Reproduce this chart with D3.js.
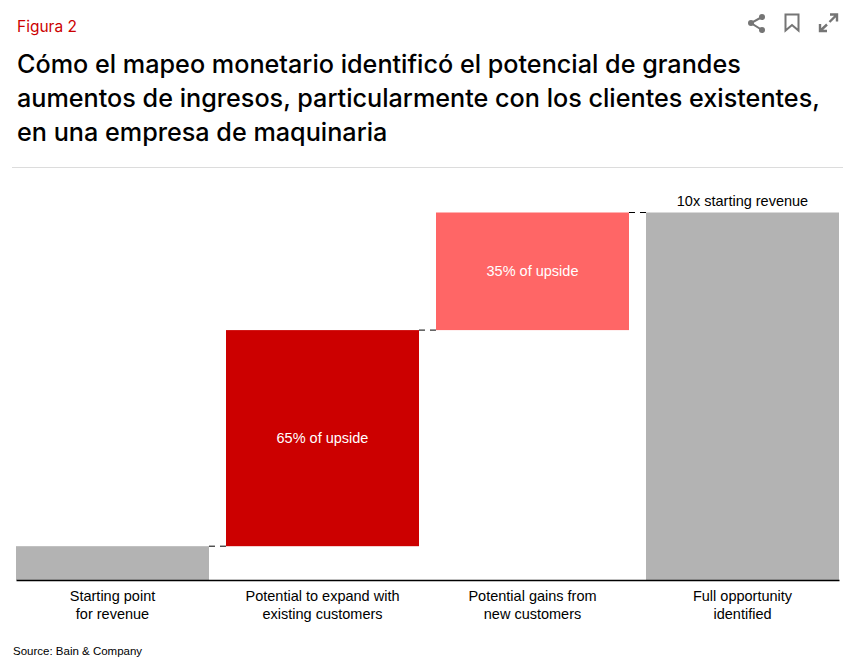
<!DOCTYPE html>
<html>
<head>
<meta charset="utf-8">
<script src="https://cdn.jsdelivr.net/npm/d3@7"></script>
<style>
  html, body { margin: 0; padding: 0; background: #fff; }
  svg { display: block; }
  text { font-family: "Liberation Sans", Arial, sans-serif; }
</style>
</head>
<body>
<div id="chart"></div>
<script>
// data, revenue in multiples of the full opportunity scale
const categories = [
  ['Starting point', 'for revenue'],
  ['Potential to expand with', 'existing customers'],
  ['Potential gains from', 'new customers'],
  ['Full opportunity', 'identified']
];
const barStart = [0, 0.92, 6.8, 0];
const barEnd = [0.92, 6.8, 10, 10];
const barColors = ['#b3b3b3', '#cc0000', '#ff6666', '#b3b3b3'];
const barLabels = ['', '65% of upside', '35% of upside', ''];
const topLabel = '10x starting revenue';
const titleLines = [
  'Cómo el mapeo monetario identificó el potencial de grandes',
  'aumentos de ingresos, particularmente con los clientes existentes,',
  'en una empresa de maquinaria'
];

const width = 854, height = 667;
const svg = d3.select('#chart').append('svg')
  .attr('width', width)
  .attr('height', height);

const x = d3.scaleBand()
  .domain(d3.range(categories.length))
  .range([16, 839])
  .paddingInner(0.081)
  .paddingOuter(0);
const y = d3.scaleLinear().domain([0, 10]).range([580, 212.5]);

// header
svg.append('text')
  .attr('x', 17).attr('y', 32)
  .attr('fill', '#cc0000')
  .style('font-family', 'Inter')
  .style('font-size', '15.5px')
  .text('Figura 2');

svg.selectAll('text.title')
  .data(titleLines)
  .enter().append('text')
  .attr('class', 'title')
  .attr('x', 17)
  .attr('y', (d, i) => 73 + i * 34)
  .attr('fill', '#000')
  .style('font-family', 'Inter')
  .style('font-weight', 500)
  .style('font-size', '25.2px')
  .text(d => d);

svg.append('line')
  .attr('x1', 12).attr('x2', 843)
  .attr('y1', 167.5).attr('y2', 167.5)
  .attr('stroke', '#dcdcdc');

// share, bookmark and expand icons
const icons = svg.append('g').attr('fill', 'none').attr('stroke', '#757575');
icons.append('path')
  .attr('stroke-width', 2)
  .attr('d', 'M762 17L751 23L762 30');
icons.selectAll('circle')
  .data([[762, 17], [751, 23], [762, 30]])
  .enter().append('circle')
  .attr('cx', d => d[0]).attr('cy', d => d[1]).attr('r', 3)
  .attr('fill', '#757575').attr('stroke', 'none');
icons.append('path')
  .attr('stroke-width', 2)
  .attr('d', 'M785.5 14.5H798.5V30.5L792 25L785.5 30.5Z');
icons.append('path')
  .attr('stroke-width', 2.4)
  .attr('d', 'M830 14.5H837V21.5M837 14.5L829.5 22M827 24.5L820 31M820 24V31H827');

// bars
svg.selectAll('rect.bar')
  .data(categories)
  .enter().append('rect')
  .attr('class', 'bar')
  .attr('x', (d, i) => x(i))
  .attr('y', (d, i) => y(barEnd[i]))
  .attr('width', x.bandwidth())
  .attr('height', (d, i) => y(barStart[i]) - y(barEnd[i]))
  .attr('fill', (d, i) => barColors[i]);

// dashed connectors between neighbouring bars
svg.selectAll('line.connector')
  .data(d3.range(categories.length - 1))
  .enter().append('line')
  .attr('class', 'connector')
  .attr('x1', i => x(i) + x.bandwidth())
  .attr('x2', i => x(i + 1))
  .attr('y1', i => y(barEnd[i]))
  .attr('y2', i => y(barEnd[i]))
  .attr('stroke', '#000')
  .attr('stroke-dasharray', '6,5');

// labels inside the bars
svg.selectAll('text.bar-label')
  .data(barLabels)
  .enter().append('text')
  .attr('class', 'bar-label')
  .attr('x', (d, i) => x(i) + x.bandwidth() / 2)
  .attr('y', (d, i) => (y(barStart[i]) + y(barEnd[i])) / 2 + 5)
  .attr('text-anchor', 'middle')
  .attr('fill', '#fff')
  .style('font-size', '14.5px')
  .text(d => d);

svg.append('text')
  .attr('x', x(3) + x.bandwidth() / 2)
  .attr('y', y(10) - 7)
  .attr('text-anchor', 'middle')
  .attr('fill', '#000')
  .style('font-size', '14.5px')
  .text(topLabel);

// baseline and category labels
const axis = svg.append('g')
  .attr('transform', `translate(0,${y(0)})`)
  .call(d3.axisBottom(x).tickSize(0).tickPadding(0).tickFormat(''));
axis.select('.domain').attr('stroke', '#000').attr('stroke-width', 1.5);
axis.selectAll('.tick text')
  .attr('y', 0)
  .attr('dy', null)
  .attr('fill', '#000')
  .style('font-size', '14.5px')
  .style('font-family', '"Liberation Sans", Arial, sans-serif')
  .each(function (d) {
    d3.select(this).selectAll('tspan')
      .data(categories[d])
      .enter().append('tspan')
      .attr('x', 0)
      .attr('y', (t, i) => 21 + i * 17.5)
      .text(t => t);
  });

svg.append('text')
  .attr('x', 13).attr('y', 655)
  .attr('fill', '#000')
  .style('font-size', '11.5px')
  .text('Source: Bain & Company');
</script>
</body>
</html>
